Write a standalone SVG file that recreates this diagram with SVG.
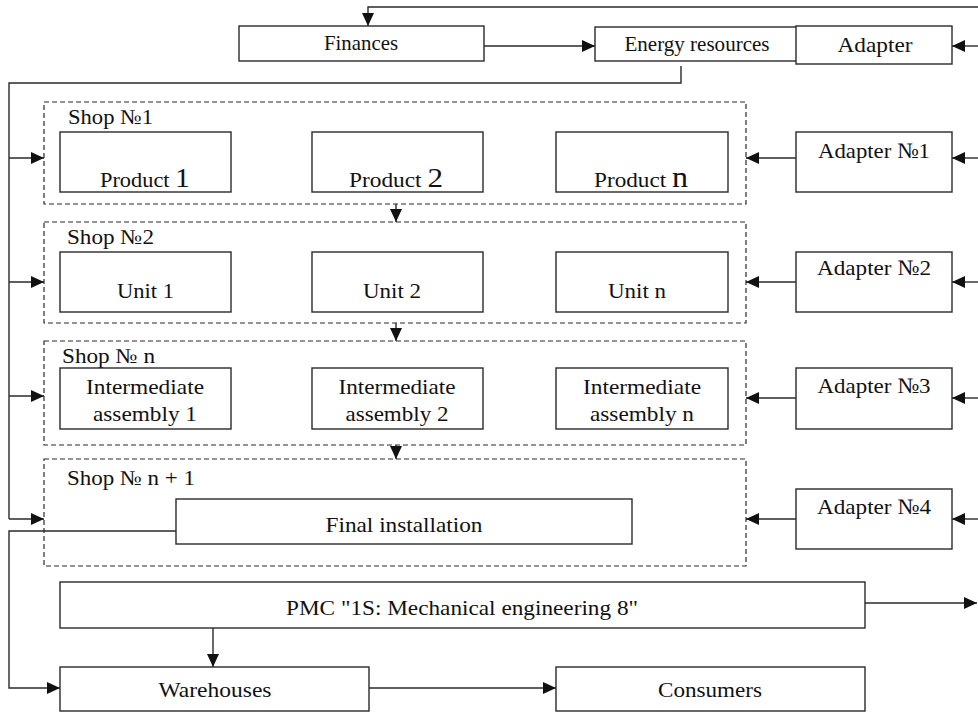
<svg xmlns="http://www.w3.org/2000/svg" width="978" height="712" viewBox="0 0 978 712">
<defs>
<marker id="ah" markerUnits="userSpaceOnUse" markerWidth="13" markerHeight="12" refX="13" refY="6" orient="auto">
<path d="M0,0 L13,6 L0,12 z" fill="#111"/>
</marker>
<style>
.box{fill:#fff;stroke:#2a2a2a;stroke-width:1.4}
.shop{fill:none;stroke:#2a2a2a;stroke-width:1.2;stroke-dasharray:5,3}
.c{fill:none;stroke:#2a2a2a;stroke-width:1.4}
.a{marker-end:url(#ah)}
text{font-family:'Liberation Serif','Times New Roman',serif;font-size:21px;fill:#111}
.m{text-anchor:middle}
.ad{font-size:22px}
</style>
</defs>
<rect width="978" height="712" fill="#fff"/>

<g id="shop1"><rect class="shop" x="44" y="102" width="702" height="102"/><text x="68" y="124" textLength="85" lengthAdjust="spacingAndGlyphs">Shop №1</text></g>
<g id="shop2"><rect class="shop" x="44" y="222" width="702" height="101"/><text x="67" y="244" textLength="87" lengthAdjust="spacingAndGlyphs">Shop №2</text></g>
<g id="shopn"><rect class="shop" x="44" y="341" width="702" height="104"/><text x="62" y="363" textLength="93" lengthAdjust="spacingAndGlyphs">Shop № n</text></g>
<g id="shopn1"><rect class="shop" x="44" y="459" width="702" height="107"/><text x="67" y="485" textLength="128" lengthAdjust="spacingAndGlyphs">Shop № n + 1</text></g>

<g id="connectors">
<path class="c a" d="M978,7 H368 V26"/>
<path class="c a" d="M484,46 H595"/>
<path class="c a" d="M978,46 H952"/>
<path class="c" d="M681,66 V83 H9 V519"/>
<path class="c a" d="M9,158 H44"/>
<path class="c a" d="M9,282 H44"/>
<path class="c a" d="M9,396 H44"/>
<path class="c a" d="M9,519 H44"/>
<path class="c a" d="M978,158 H952"/>
<path class="c a" d="M978,282 H952"/>
<path class="c a" d="M978,398 H952"/>
<path class="c a" d="M978,519 H952"/>
<path class="c a" d="M796,158 H746"/>
<path class="c a" d="M796,282 H746"/>
<path class="c a" d="M796,398 H746"/>
<path class="c a" d="M796,519 H746"/>
<path class="c a" d="M396,204 V222"/>
<path class="c a" d="M396,323 V341"/>
<path class="c a" d="M396,445 V459"/>
<path class="c a" d="M176,531 H9 V688 H60"/>
<path class="c a" d="M213,628 V667"/>
<path class="c a" d="M369,688 H556"/>
<path class="c a" d="M865,603 H977"/>
</g>

<g id="finances"><rect class="box" x="239" y="26" width="245" height="35"/><text class="m" x="361" y="50" textLength="74" lengthAdjust="spacingAndGlyphs">Finances</text></g>
<g id="energy"><rect class="box" x="595" y="27" width="203" height="34"/><text class="m" x="697" y="51" textLength="145" lengthAdjust="spacingAndGlyphs">Energy resources</text></g>
<g id="adapter"><rect class="box" x="796" y="26" width="156" height="38"/><text class="m ad" x="875" y="52" textLength="75" lengthAdjust="spacingAndGlyphs">Adapter</text></g>

<g id="product1"><rect class="box" x="60" y="132" width="171" height="60"/><text x="100" y="187" textLength="90" lengthAdjust="spacingAndGlyphs">Product <tspan font-size="28">1</tspan></text></g>
<g id="product2"><rect class="box" x="312" y="132" width="171" height="60"/><text x="349" y="187" textLength="94" lengthAdjust="spacingAndGlyphs">Product <tspan font-size="28">2</tspan></text></g>
<g id="productn"><rect class="box" x="556" y="132" width="172" height="60"/><text x="594" y="187" textLength="94" lengthAdjust="spacingAndGlyphs">Product <tspan font-size="29">n</tspan></text></g>

<g id="unit1"><rect class="box" x="60" y="252" width="171" height="60"/><text class="m" x="145.5" y="298" textLength="57" lengthAdjust="spacingAndGlyphs">Unit 1</text></g>
<g id="unit2"><rect class="box" x="312" y="252" width="171" height="60"/><text class="m" x="392" y="298" textLength="58" lengthAdjust="spacingAndGlyphs">Unit 2</text></g>
<g id="unitn"><rect class="box" x="556" y="252" width="172" height="60"/><text class="m" x="637" y="298" textLength="58" lengthAdjust="spacingAndGlyphs">Unit n</text></g>

<g id="ia1"><rect class="box" x="60" y="368" width="171" height="61"/><text class="m" x="145" y="394" textLength="118" lengthAdjust="spacingAndGlyphs">Intermediate</text><text class="m" x="145" y="421" textLength="104" lengthAdjust="spacingAndGlyphs">assembly 1</text></g>
<g id="ia2"><rect class="box" x="312" y="368" width="171" height="61"/><text class="m" x="397" y="394" textLength="117" lengthAdjust="spacingAndGlyphs">Intermediate</text><text class="m" x="397" y="421" textLength="103" lengthAdjust="spacingAndGlyphs">assembly 2</text></g>
<g id="ian"><rect class="box" x="556" y="368" width="172" height="61"/><text class="m" x="642" y="394" textLength="118" lengthAdjust="spacingAndGlyphs">Intermediate</text><text class="m" x="642" y="421" textLength="104" lengthAdjust="spacingAndGlyphs">assembly n</text></g>

<g id="final"><rect class="box" x="176" y="499" width="456" height="45"/><text class="m" x="404" y="532" textLength="157" lengthAdjust="spacingAndGlyphs">Final installation</text></g>

<g id="adapter1"><rect class="box" x="796" y="132" width="156" height="60"/><text class="m ad" x="874" y="158" textLength="112" lengthAdjust="spacingAndGlyphs">Adapter №1</text></g>
<g id="adapter2"><rect class="box" x="796" y="252" width="156" height="60"/><text class="m ad" x="874" y="275" textLength="114" lengthAdjust="spacingAndGlyphs">Adapter №2</text></g>
<g id="adapter3"><rect class="box" x="796" y="368" width="156" height="61"/><text class="m ad" x="874" y="393" textLength="113" lengthAdjust="spacingAndGlyphs">Adapter №3</text></g>
<g id="adapter4"><rect class="box" x="796" y="489" width="156" height="60"/><text class="m ad" x="874" y="514" textLength="114" lengthAdjust="spacingAndGlyphs">Adapter №4</text></g>

<g id="pmc"><rect class="box" x="60" y="582" width="805" height="46"/><text class="m" x="462" y="615" textLength="352" lengthAdjust="spacingAndGlyphs">PMC "1S: Mechanical engineering 8"</text></g>
<g id="warehouses"><rect class="box" x="60" y="667" width="309" height="44"/><text class="m" x="215" y="697" textLength="113" lengthAdjust="spacingAndGlyphs">Warehouses</text></g>
<g id="consumers"><rect class="box" x="556" y="667" width="309" height="44"/><text class="m" x="710" y="697" textLength="104" lengthAdjust="spacingAndGlyphs">Consumers</text></g>
</svg>
